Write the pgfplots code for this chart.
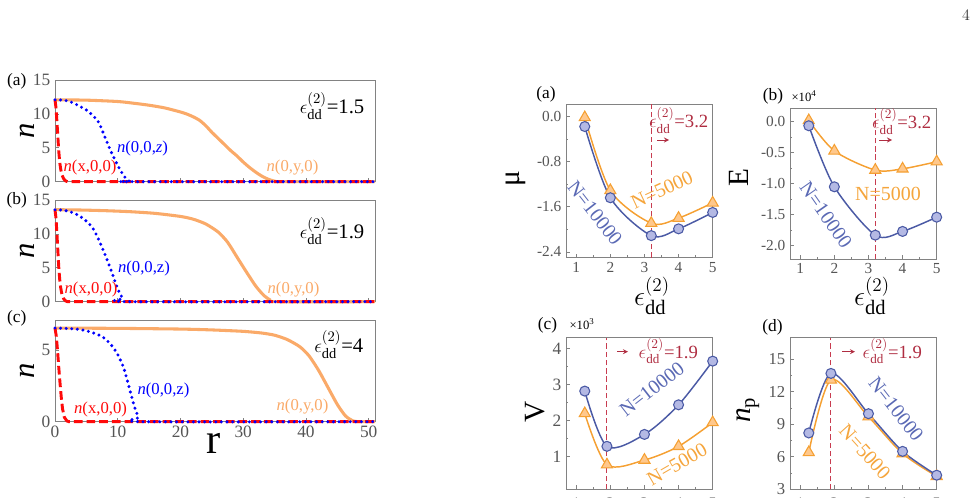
\documentclass[border=0pt]{standalone}
\usepackage{fontspec}
\setmainfont{Liberation Serif}
\usepackage{amsmath}
\usepackage{pgfplots}
\pgfplotsset{compat=1.18}

\definecolor{orgL}{RGB}{250,170,105}
\definecolor{bluD}{RGB}{0,0,255}
\definecolor{redD}{RGB}{255,10,10}
\definecolor{bl}{RGB}{75,90,165}
\definecolor{blfill}{RGB}{180,185,228}
\definecolor{blt}{RGB}{90,105,180}
\definecolor{or}{RGB}{245,160,50}
\definecolor{orfill}{RGB}{255,200,140}
\definecolor{ort}{RGB}{245,165,60}
\definecolor{crim}{RGB}{200,60,80}
\definecolor{crimt}{RGB}{175,45,65}
\definecolor{tgray}{RGB}{85,85,85}
\definecolor{fgray}{RGB}{130,130,130}

\newcommand\fs[1]{\fontsize{#1}{#1}\selectfont}
\newcommand\epsdd{$\epsilon^{(2)}_{\mathrm{dd}}$}

\pgfplotsset{
  base/.style={scale only axis, anchor=south west,
    axis line style={fgray, line width=0.6pt},
    tick style={fgray, line width=0.6pt},
    tick align=inside, tick pos=left,
    major tick length=3pt, minor tick length=1.8pt,
    ticklabel style={text=tgray, font=\fs{11.5}},
    /pgf/number format/assume math mode=true},
  lft/.style={base, width=240pt, height=76.1pt, xmin=0, xmax=51, ymin=0,
    xtick={0,10,20,30,40,50}, clip=false, ticklabel style={font=\fs{13}}},
  rgt/.style={base, width=110pt, xmin=0.7, xmax=5, xtick={1,2,3,4,5},
    minor x tick num=1, minor y tick num=1},
  orL/.style={orgL, line width=2.3pt, smooth, tension=0.4},
  rdL/.style={redD, line width=2.2pt, dash pattern=on 6.5pt off 3pt},
  buL/.style={bluD, line width=2.5pt, line cap=round, dash pattern=on 0pt off 4.2pt, smooth, tension=0.4},
  blS/.style={bl, line width=1.1pt, smooth, mark=*, mark size=3.75pt,
    mark options={fill=blfill, draw=bl, line width=0.8pt, solid}},
  orS/.style={or, line width=1.1pt, smooth, mark=triangle*, mark size=4.8pt,
    mark options={fill=orfill, draw=or, line width=0.8pt, solid}},
  vdash/.style={crim, line width=0.8pt, dash pattern=on 4pt off 2.2pt},
}

\begin{document}
\begin{tikzpicture}
% ---------------- left (a)
\begin{axis}[lft, at={(41.25pt,236.5pt)}, ymax=15, ytick={0,5,10,15}, xticklabels={}]
\addplot[orL] coordinates {(0,12.1) (5,12.05) (10,11.85) (12.5,11.6) (15,11.3) (17.5,10.9) (20,10.3) (21,10.0) (22,9.6) (23,9.1) (24,8.3) (25,7.3) (26,6.4) (27,5.5) (28,4.6) (29,3.8) (30,2.9) (31,2.1) (32,1.4) (33,0.8) (34,0.35) (35,0.08) (35.8,0) (51,0)};
\addplot[rdL] coordinates {(0,12.1) (0.15,11.0) (0.3,9.0) (0.45,6.7) (0.6,4.5) (0.75,2.9) (0.9,1.9) (1.1,1.0) (1.4,0.4) (1.7,0.1) (2.0,0) (51,0)};
\addplot[buL] coordinates {(0,12.1) (1,12.07) (2,11.95) (3,11.6) (4,11.1) (5,10.6) (6,9.8) (7,8.7) (8,6.5) (9,4.3) (10,2.4) (11,0.8) (11.8,0.1) (12.3,0) (51,0)};
\end{axis}
% ---------------- left (b)
\begin{axis}[lft, at={(41.25pt,146.5pt)}, ymax=15, ytick={0,5,10,15}, xticklabels={}]
\addplot[orL] coordinates {(0,13.6) (4,13.55) (8,13.45) (12,13.3) (16,13.05) (20,12.6) (22,12.2) (24,11.5) (26,10.3) (27.5,8.8) (29,6.6) (30.5,4.4) (32,2.3) (33.2,1.0) (34.2,0.3) (35.2,0) (51,0)};
\addplot[rdL] coordinates {(0,13.6) (0.15,12.4) (0.3,10.2) (0.45,7.6) (0.6,5.1) (0.75,3.3) (0.9,2.1) (1.1,1.1) (1.4,0.4) (1.7,0.1) (2.0,0) (51,0)};
\addplot[buL] coordinates {(0,13.6) (1,13.55) (2,13.4) (3,13.1) (4,12.6) (5,11.9) (6,10.9) (7,9.1) (8,6.9) (9,4.5) (10,1.9) (10.8,0.5) (11.5,0) (51,0)};
\end{axis}
% ---------------- left (c)
\begin{axis}[lft, at={(41.25pt,56.5pt)}, ymax=7.1, ytick={0,5}]
\addplot[orL] coordinates {(0,6.55) (10,6.53) (20,6.48) (25,6.42) (30,6.32) (33,6.2) (35,6.05) (37,5.75) (39,5.25) (40.5,4.6) (42,3.6) (43.5,2.4) (45,1.2) (46.3,0.4) (47.5,0.05) (48.2,0) (51,0)};
\addplot[rdL] coordinates {(0,6.55) (0.2,6.0) (0.4,5.0) (0.6,3.8) (0.8,2.7) (1.0,1.7) (1.2,0.9) (1.5,0.3) (1.9,0.05) (2.2,0) (51,0)};
\addplot[buL] coordinates {(0,6.55) (2,6.52) (4,6.45) (5.5,6.3) (7,6.06) (8,5.8) (9,5.35) (10,4.7) (11,3.7) (12,2.1) (12.7,1.0) (13.3,0.3) (13.8,0) (51,0)};
\end{axis}
% ---------------- right (a) mu
\begin{axis}[rgt, at={(424.5pt,179.5pt)}, height=115.3pt, ymin=-2.5, ymax=0.22,
  ytick={-2.4,-1.6,-0.8,0}, yticklabels={-2.4,-1.6,-0.8,0.0}]
\addplot[vdash] coordinates {(3.2,-2.5) (3.2,0.22)};
\addplot[orS] coordinates {(1.25,-0.02) (2,-1.31) (3.2,-1.89) (4,-1.80) (5,-1.53)};
\addplot[blS] coordinates {(1.25,-0.18) (2,-1.44) (3.2,-2.11) (4,-1.99) (5,-1.70)};
\end{axis}
% ---------------- right (b) E
\begin{axis}[rgt, at={(592.5pt,178.5pt)}, height=113pt, ymin=-2.215, ymax=0.216,
  ytick={-2,-1.5,-1,-0.5,0}, yticklabels={-2.0,-1.5,-1.0,-0.5,0.0}]
\addplot[vdash] coordinates {(3.2,-2.215) (3.2,0.216)};
\addplot[orS] coordinates {(1.25,0.02) (2,-0.47) (3.2,-0.78) (4,-0.76) (5,-0.645)};
\addplot[blS] coordinates {(1.25,-0.065) (2,-1.05) (3.2,-1.83) (4,-1.77) (5,-1.54)};
\end{axis}
% ---------------- right (c) V
\begin{axis}[rgt, at={(424.5pt,5.8pt)}, height=113.7pt, ymin=0.1, ymax=4.3,
  ytick={1,2,3,4}, yticklabels={1,2,3,4}, yticklabel style={font=\fs{13}},
  xticklabel style={yshift=-3pt, font=\fs{12}}]
\addplot[vdash] coordinates {(1.9,0.1) (1.9,4.3)};
\addplot[orS] coordinates {(1.25,2.2) (1.9,0.78) (3,0.91) (4,1.29) (5,1.95)};
\addplot[blS] coordinates {(1.25,2.82) (1.9,1.29) (3,1.62) (4,2.44) (5,3.65)};
\end{axis}
% ---------------- right (d) n_p
\begin{axis}[rgt, at={(592.5pt,5.8pt)}, height=113.7pt, ymin=3, ymax=17,
  ytick={3,6,9,12,15}, yticklabels={3,6,9,12,15}, yticklabel style={font=\fs{12.5}},
  xticklabel style={yshift=-3pt, font=\fs{12}}]
\addplot[vdash] coordinates {(1.9,3) (1.9,17)};
\addplot[orS] coordinates {(1.25,6.4) (1.9,13.1) (3,9.7) (4,6.3) (5,4.2)};
\addplot[blS] coordinates {(1.25,8.2) (1.9,13.7) (3,9.98) (4,6.5) (5,4.3)};
\end{axis}

% ---------------- text
\begin{scope}[x=0.75pt,y=-0.75pt,yshift=372.75pt]
% page number
\node[text=black!80, font=\fs{13}] at (966,15) {$4$};
% left panels
\node[font=\fs{13}] at (16.7,81) {(a)};
\node[font=\fs{13}] at (16.7,200) {(b)};
\node[font=\fs{13}] at (16.7,318.5) {(c)};
\foreach \yy in {131,251,371} {\node[rotate=90, font=\fs{23}\itshape] at (27,\yy) {n};}
\node[font=\fs{32}] at (214,443) {r};
\node[anchor=base east, font=\fs{15.5}] at (369,113.5) {\epsdd=1.5};
\node[anchor=base east, font=\fs{15.5}] at (369,238.5) {\epsdd=1.9};
\node[anchor=base east, font=\fs{15.5}] at (368,352) {\epsdd=4};
\begin{scope}[every node/.style={font=\fs{12.5}}]
\node[text=redD] at (90,167) {\textit{n}(x,0,0)};
\node[text=bluD] at (142.5,148.3) {\textit{n}(0,0,\textit{z})};
\node[text=orgL] at (292.5,167.3) {\textit{n}(0,y,0)};
\node[text=redD] at (91,289) {\textit{n}(x,0,0)};
\node[text=bluD] at (144,268.3) {\textit{n}(0,0,z)};
\node[text=orgL] at (293.5,289.3) {\textit{n}(0,y,0)};
\node[text=redD] at (100.5,409) {\textit{n}(x,0,0)};
\node[text=bluD] at (163.5,390) {\textit{n}(0,0,z)};
\node[text=orgL] at (302.5,406.7) {\textit{n}(0,y,0)};
\end{scope}
% right panel labels
\node[font=\fs{13}] at (546,94) {(a)};
\node[font=\fs{13}] at (773,96.5) {(b)};
\node[font=\fs{9.5}] at (804,96) {×10\textsuperscript{4}};
\node[font=\fs{13}] at (547.5,325) {(c)};
\node[font=\fs{9.5}] at (582,324) {×10\textsuperscript{3}};
\node[font=\fs{13}] at (772.5,327) {(d)};
\node[rotate=90, font=\fs{22}] at (516,179) {μ};
\node[rotate=90, font=\fs{22}] at (739,178) {E};
\node[rotate=90, font=\fs{22}] at (535,412) {V};
\node[rotate=90, font=\fs{22}] at (748,410) {\textit{n}\textsubscript{p}};
\node[font=\fs{22}] at (652,296) {\epsdd};
\node[font=\fs{22}] at (872,296) {\epsdd};
% threshold labels
\node[anchor=base east, text=crimt, font=\fs{14}] at (713,127.5) {\epsdd=3.2};
\node[anchor=base east, text=crimt, font=\fs{14}] at (936,128.5) {\epsdd=3.2};
\draw[crimt, line width=0.7pt, -stealth] (657,140) -- (669,140);
\draw[crimt, line width=0.7pt, -stealth] (879,140) -- (892,140);
\draw[crimt, line width=0.7pt, -stealth] (617,351.7) -- (628,351.7);
\draw[crimt, line width=0.7pt, -stealth] (842,351.7) -- (855,351.7);
\node[anchor=base west, text=crimt, font=\fs{14}] at (634,358) {\epsdd=1.9};
\node[anchor=base west, text=crimt, font=\fs{14}] at (858,358) {\epsdd=1.9};
% N labels
\node[text=blt, font=\fs{15}, rotate=-52] at (595,213) {N=10000};
\node[text=ort, font=\fs{15}, rotate=25] at (662,190) {N=5000};
\node[text=blt, font=\fs{15}, rotate=-55] at (826,215) {N=10000};
\node[text=ort, font=\fs{15}] at (888,193.5) {N=5000};
\node[text=blt, font=\fs{15}, rotate=38] at (652,389) {N=10000};
\node[text=ort, font=\fs{15}, rotate=30] at (677,464) {N=5000};
\node[text=blt, font=\fs{15}, rotate=-52] at (896,409) {N=10000};
\node[text=ort, font=\fs{15}, rotate=-48] at (865,452) {N=5000};
\end{scope}
\pgfresetboundingbox
\path[use as bounding box] (0,0) rectangle (732.75pt,372.75pt);
\end{tikzpicture}
\end{document}
